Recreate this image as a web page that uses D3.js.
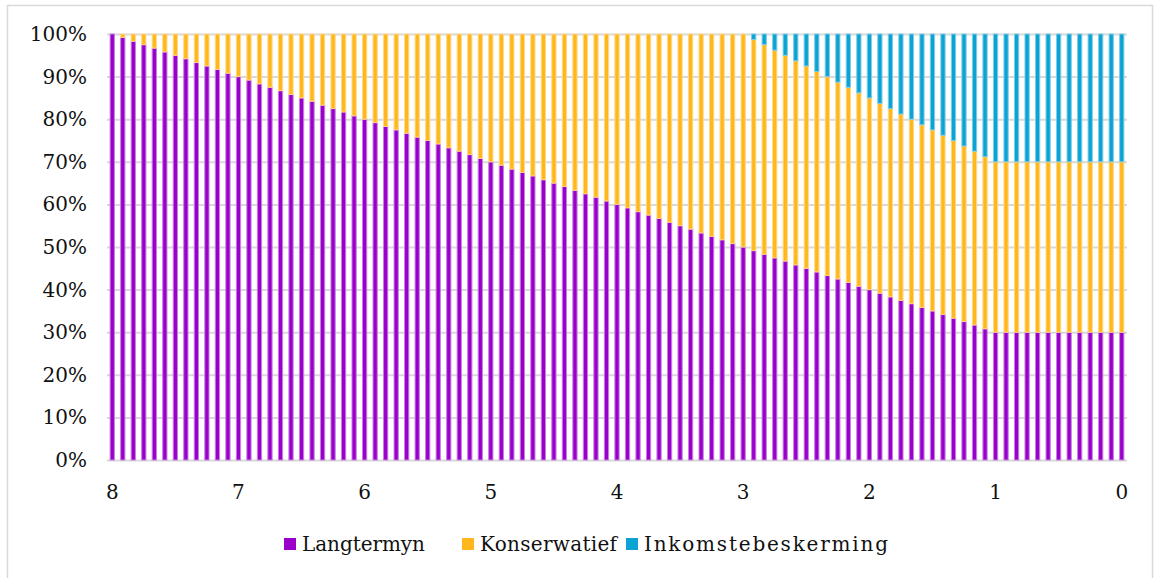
<!DOCTYPE html>
<html>
<head>
<meta charset="utf-8">
<script src="https://cdn.jsdelivr.net/npm/d3@7"></script>
<style>
  body { margin: 0; background: #fff; }
  svg { display: block; font-family: "DejaVu Serif", serif; }
</style>
</head>
<body>
<svg id="chart" width="1154" height="578"></svg>
<script>
// months remaining until retirement, 96 down to 0
var monthsLeft = d3.range(96, -1, -1);
var yearLabels = ["8", "7", "6", "5", "4", "3", "2", "1", "0"];
var seriesNames = ["Langtermyn", "Konserwatief", "Inkomstebeskerming"];
var seriesColors = ["#9900cc", "#ffb81c", "#0aa3d3"];
var seriesEdges = ["#c880e0", "#ffd98a", "#7fcde6"];

var langtermyn = [
  100, 99.2, 98.3, 97.5, 96.7, 95.8, 95, 94.2, 93.3, 92.5, 91.7, 90.8,
  90, 89.2, 88.3, 87.5, 86.7, 85.8, 85, 84.2, 83.3, 82.5, 81.7, 80.8,
  80, 79.2, 78.3, 77.5, 76.7, 75.8, 75, 74.2, 73.3, 72.5, 71.7, 70.8,
  70, 69.2, 68.3, 67.5, 66.7, 65.8, 65, 64.2, 63.3, 62.5, 61.7, 60.8,
  60, 59.2, 58.3, 57.5, 56.7, 55.8, 55, 54.2, 53.3, 52.5, 51.7, 50.8,
  50, 49.2, 48.3, 47.5, 46.7, 45.8, 45, 44.2, 43.3, 42.5, 41.7, 40.8,
  40, 39.2, 38.3, 37.5, 36.7, 35.8, 35, 34.2, 33.3, 32.5, 31.7, 30.8,
  30, 30, 30, 30, 30, 30, 30, 30, 30, 30, 30, 30, 30
];
var konserwatief = [
  0, 0.8, 1.7, 2.5, 3.3, 4.2, 5, 5.8, 6.7, 7.5, 8.3, 9.2,
  10, 10.8, 11.7, 12.5, 13.3, 14.2, 15, 15.8, 16.7, 17.5, 18.3, 19.2,
  20, 20.8, 21.7, 22.5, 23.3, 24.2, 25, 25.8, 26.7, 27.5, 28.3, 29.2,
  30, 30.8, 31.7, 32.5, 33.3, 34.2, 35, 35.8, 36.7, 37.5, 38.3, 39.2,
  40, 40.8, 41.7, 42.5, 43.3, 44.2, 45, 45.8, 46.7, 47.5, 48.3, 49.2,
  50, 49.6, 49.2, 48.8, 48.3, 47.9, 47.5, 47.1, 46.7, 46.2, 45.8, 45.4,
  45, 44.6, 44.2, 43.8, 43.3, 42.9, 42.5, 42.1, 41.7, 41.2, 40.8, 40.4,
  40, 40, 40, 40, 40, 40, 40, 40, 40, 40, 40, 40, 40
];
var inkomstebeskerming = [
  0, 0, 0, 0, 0, 0, 0, 0, 0, 0, 0, 0,
  0, 0, 0, 0, 0, 0, 0, 0, 0, 0, 0, 0,
  0, 0, 0, 0, 0, 0, 0, 0, 0, 0, 0, 0,
  0, 0, 0, 0, 0, 0, 0, 0, 0, 0, 0, 0,
  0, 0, 0, 0, 0, 0, 0, 0, 0, 0, 0, 0,
  0, 1.3, 2.5, 3.8, 5, 6.3, 7.5, 8.8, 10, 11.3, 12.5, 13.8,
  15, 16.3, 17.5, 18.8, 20, 21.3, 22.5, 23.8, 25, 26.3, 27.5, 28.8,
  30, 30, 30, 30, 30, 30, 30, 30, 30, 30, 30, 30, 30
];

var margin = { left: 107, right: 27, top: 34, bottom: 118 };
var width = 1154 - margin.left - margin.right;
var height = 578 - margin.top - margin.bottom;

var svg = d3.select("#chart");

// outer chart border (left, top, right)
svg.append("path")
    .attr("d", "M7.5,580V5.5H1152.5V580")
    .attr("fill", "none")
    .attr("stroke", "#d9d9d9")
    .attr("stroke-width", 1.5);

var g = svg.append("g").attr("transform", "translate(" + margin.left + "," + margin.top + ")");

var rows = monthsLeft.map(function (m, i) {
    return {
        month: m,
        Langtermyn: langtermyn[i],
        Konserwatief: konserwatief[i],
        Inkomstebeskerming: inkomstebeskerming[i]
    };
});

var stacked = d3.stack()
    .keys(seriesNames)
    .offset(d3.stackOffsetExpand)(rows);

var x = d3.scaleBand()
    .domain(monthsLeft)
    .range([0, width])
    .paddingInner(0.5)
    .paddingOuter(0.25);

var y = d3.scaleLinear().domain([0, 1]).range([height, 0]);

// gridlines + y labels
var yAxis = g.append("g")
    .call(d3.axisLeft(y)
        .tickValues(d3.range(0, 11).map(function (d) { return d / 10; }))
        .tickFormat(d3.format(".0%"))
        .tickSize(-width)
        .tickPadding(20));
yAxis.select(".domain").remove();
yAxis.selectAll(".tick line").attr("stroke", "#d9d9d9").attr("stroke-width", 2);
yAxis.selectAll(".tick text")
    .attr("font-size", 20)
    .attr("font-family", "DejaVu Serif")
    .attr("fill", "#111");

// bars
g.append("g").selectAll("g")
    .data(stacked)
    .enter().append("g")
    .attr("fill", function (d, i) { return seriesColors[i]; })
    .attr("stroke", function (d, i) { return seriesEdges[i]; })
    .selectAll("rect")
    .data(function (d) { return d; })
    .enter().append("rect")
    .attr("x", function (d) { return x(d.data.month) + 0.5; })
    .attr("width", x.bandwidth() - 1)
    .attr("y", function (d) { return y(d[1]); })
    .attr("height", function (d) { return Math.max(0, y(d[0]) - y(d[1])); })
    .attr("stroke-width", 1);

// x axis labels: one per year
var xAxis = g.append("g")
    .attr("transform", "translate(0," + height + ")")
    .call(d3.axisBottom(x)
        .tickValues(monthsLeft.filter(function (m) { return m % 12 === 0; }))
        .tickFormat(function (m) { return yearLabels[8 - m / 12]; })
        .tickSize(0)
        .tickPadding(25));
xAxis.select(".domain").remove();
xAxis.selectAll(".tick text")
    .attr("font-size", 20)
    .attr("font-family", "DejaVu Serif")
    .attr("fill", "#111");

// legend
var legendX = [284, 462, 626];
var legendW = [123, 137, 244];
var legend = svg.append("g");
seriesNames.forEach(function (name, i) {
    legend.append("rect")
        .attr("x", legendX[i])
        .attr("y", 538)
        .attr("width", 12)
        .attr("height", 12)
        .attr("fill", seriesColors[i]);
    legend.append("text")
        .attr("x", legendX[i] + 18)
        .attr("y", 551)
        .attr("font-size", 20)
        .attr("fill", "#111")
        .attr("textLength", legendW[i])
        .attr("lengthAdjust", "spacing")
        .text(name);
});
</script>
</body>
</html>
